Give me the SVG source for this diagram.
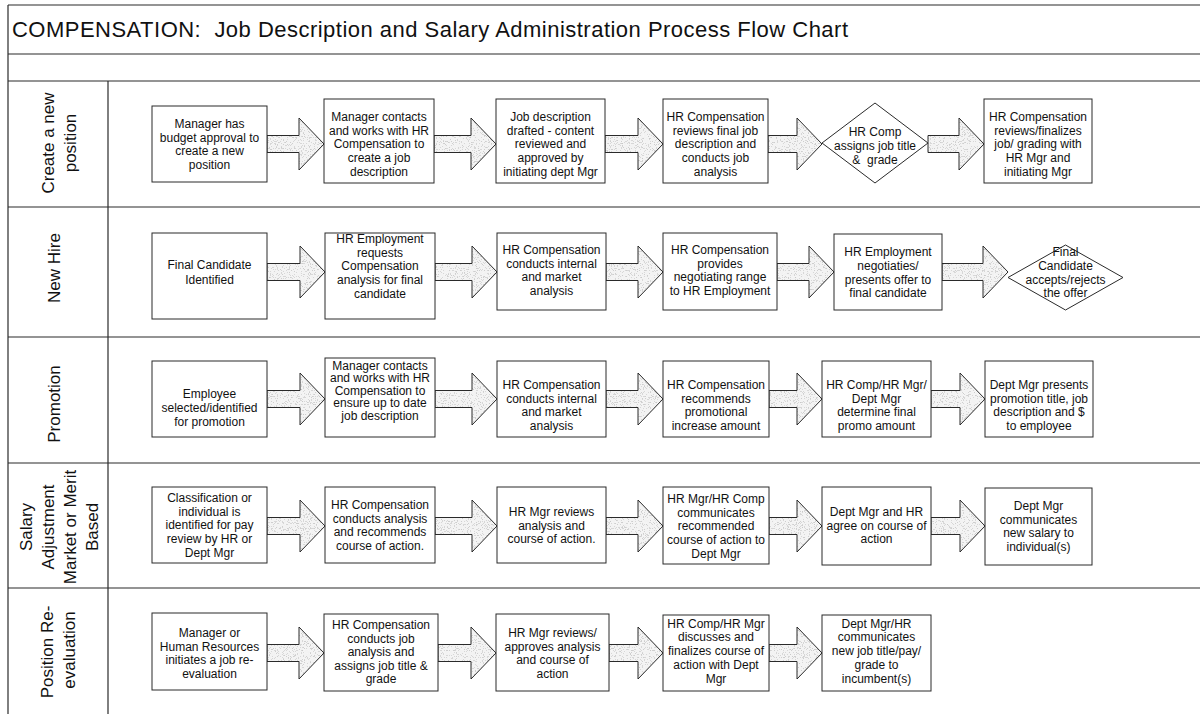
<svg xmlns="http://www.w3.org/2000/svg" xmlns:xlink="http://www.w3.org/1999/xlink" width="1200" height="714" viewBox="0 0 1200 714">
  <style>
    .frame { stroke: #2a2a2a; stroke-width: 1.2; fill: none; }
    .box { fill: #ffffff; stroke: #2a2a2a; stroke-width: 1; }
    .t { font-family: "Liberation Sans", Arial, sans-serif; font-size: 12px; fill: #111; text-anchor: middle; }
    .lane { font-family: "Liberation Sans", Arial, sans-serif; font-size: 17px; fill: #111; text-anchor: middle; }
    .title { font-family: "Liberation Sans", Arial, sans-serif; font-size: 22px; fill: #111; }
  </style>
  <defs>
    <!-- speckled light grey fill for the block arrows -->
    <filter id="grain" filterUnits="userSpaceOnUse" x="0" y="0" width="1200" height="714">
      <feTurbulence type="fractalNoise" baseFrequency="0.85" numOctaves="2" seed="7" result="noise"/>
      <feColorMatrix in="noise" type="matrix" values="1 0 0 0 0  1 0 0 0 0  1 0 0 0 0  0 0 0 0 1" result="grey"/>
      <feComponentTransfer in="grey" result="speck">
        <feFuncR type="discrete" tableValues="0.55 0.58 0.62 0.68 0.89 0.9 0.91 0.92 0.93 0.94"/>
        <feFuncG type="discrete" tableValues="0.55 0.58 0.62 0.68 0.89 0.9 0.91 0.92 0.93 0.94"/>
        <feFuncB type="discrete" tableValues="0.55 0.58 0.62 0.68 0.89 0.9 0.91 0.92 0.93 0.94"/>
      </feComponentTransfer>
      <feComposite in="speck" in2="SourceAlpha" operator="in"/>
    </filter>
  </defs>

  <rect width="1200" height="714" fill="#ffffff"/>

  <!-- table frame -->
  <g id="frame">
    <line class="frame" x1="8" y1="5" x2="1200" y2="5"/>
    <line class="frame" x1="8" y1="5" x2="8" y2="714"/>
    <line class="frame" x1="8" y1="54" x2="1200" y2="54"/>
    <line class="frame" x1="8" y1="81" x2="1200" y2="81"/>
    <line class="frame" x1="8" y1="207" x2="1200" y2="207"/>
    <line class="frame" x1="8" y1="337" x2="1200" y2="337"/>
    <line class="frame" x1="8" y1="463" x2="1200" y2="463"/>
    <line class="frame" x1="8" y1="588" x2="1200" y2="588"/>
    <line class="frame" x1="108" y1="81" x2="108" y2="714"/>
    <text class="title" x="12" y="37" textLength="836" lengthAdjust="spacing" xml:space="preserve">COMPENSATION:  Job Description and Salary Administration Process Flow Chart</text>
  </g>

  <!-- lane headings -->
  <g id="lane-labels">
    <text class="lane" transform="translate(54,143) rotate(-90)">Create a new</text>
    <text class="lane" transform="translate(76,143) rotate(-90)">position</text>
    <text class="lane" transform="translate(60,268) rotate(-90)">New Hire</text>
    <text class="lane" transform="translate(60,404) rotate(-90)">Promotion</text>
    <text class="lane" transform="translate(32,527) rotate(-90)">Salary</text>
    <text class="lane" transform="translate(54,527) rotate(-90)">Adjustment</text>
    <text class="lane" transform="translate(76,527) rotate(-90)">Market or Merit</text>
    <text class="lane" transform="translate(98,527) rotate(-90)">Based</text>
    <text class="lane" transform="translate(53,652) rotate(-90)">Position Re-</text>
    <text class="lane" transform="translate(75,650) rotate(-90)">evaluation</text>
  </g>

  <!-- connectors: block arrows (speckled fill, then outline) -->
  <g id="connectors">
    <g id="arrow-fills" fill="#888888" filter="url(#grain)">
      <!-- create a new position -->
      <path id="a11" d="M267 135.5H299V118L324 144L299 170V152.5H267Z"/>
      <path id="a12" d="M434 135.5H471V118L496 144L471 170V152.5H434Z"/>
      <path id="a13" d="M605 135.5H638V118L663 144L638 170V152.5H605Z"/>
      <path id="a14" d="M768 135.5H797V118L822 144L797 170V152.5H768Z"/>
      <path id="a15" d="M928 135.5H959V118L984 144L959 170V152.5H928Z"/>
      <!-- new hire -->
      <path id="a21" d="M267 263.5H300V246L325 272L300 298V280.5H267Z"/>
      <path id="a22" d="M435 263.5H472V246L497 272L472 298V280.5H435Z"/>
      <path id="a23" d="M606 263.5H638V246L663 272L638 298V280.5H606Z"/>
      <path id="a24" d="M777 263.5H809V246L834 272L809 298V280.5H777Z"/>
      <path id="a25" d="M942 263.5H983V246L1008 272L983 298V280.5H942Z"/>
      <!-- promotion -->
      <path id="a31" d="M267 390.5H300V373L325 399L300 425V407.5H267Z"/>
      <path id="a32" d="M435 390.5H472V373L497 399L472 425V407.5H435Z"/>
      <path id="a33" d="M606 390.5H638V373L663 399L638 425V407.5H606Z"/>
      <path id="a34" d="M769 390.5H797V373L822 399L797 425V407.5H769Z"/>
      <path id="a35" d="M931 390.5H960V373L985 399L960 425V407.5H931Z"/>
      <!-- salary adjustment -->
      <path id="a41" d="M267 517.5H300V500L325 526L300 552V534.5H267Z"/>
      <path id="a42" d="M435 517.5H472V500L497 526L472 552V534.5H435Z"/>
      <path id="a43" d="M606 517.5H638V500L663 526L638 552V534.5H606Z"/>
      <path id="a44" d="M769 517.5H797V500L822 526L797 552V534.5H769Z"/>
      <path id="a45" d="M931 517.5H960V500L985 526L960 552V534.5H931Z"/>
      <!-- position re-evaluation -->
      <path id="a51" d="M267 644.5H299V627L324 653L299 679V661.5H267Z"/>
      <path id="a52" d="M438 644.5H471V627L496 653L471 679V661.5H438Z"/>
      <path id="a53" d="M609 644.5H638V627L663 653L638 679V661.5H609Z"/>
      <path id="a54" d="M769 644.5H797V627L822 653L797 679V661.5H769Z"/>
    </g>
    <g id="arrow-outlines" fill="none" stroke="#2a2a2a" stroke-width="1">
      <use xlink:href="#a11"/><use xlink:href="#a12"/><use xlink:href="#a13"/><use xlink:href="#a14"/><use xlink:href="#a15"/>
      <use xlink:href="#a21"/><use xlink:href="#a22"/><use xlink:href="#a23"/><use xlink:href="#a24"/><use xlink:href="#a25"/>
      <use xlink:href="#a31"/><use xlink:href="#a32"/><use xlink:href="#a33"/><use xlink:href="#a34"/><use xlink:href="#a35"/>
      <use xlink:href="#a41"/><use xlink:href="#a42"/><use xlink:href="#a43"/><use xlink:href="#a44"/><use xlink:href="#a45"/>
      <use xlink:href="#a51"/><use xlink:href="#a52"/><use xlink:href="#a53"/><use xlink:href="#a54"/>
    </g>
  </g>

  <!-- lane 1: create a new position -->
  <g id="np-1">
    <rect class="box" x="152" y="106" width="115" height="76"/>
    <text class="t"><tspan x="209.5" y="128">Manager has</tspan><tspan x="209.5" y="141.5">budget approval to</tspan><tspan x="209.5" y="155">create a new</tspan><tspan x="209.5" y="168.5">position</tspan></text>
  </g>
  <g id="np-2">
    <rect class="box" x="324" y="99" width="110" height="84"/>
    <text class="t"><tspan x="379" y="121">Manager contacts</tspan><tspan x="379" y="134.7">and works with HR</tspan><tspan x="379" y="148.4">Compensation to</tspan><tspan x="379" y="162.1">create a job</tspan><tspan x="379" y="175.8">description</tspan></text>
  </g>
  <g id="np-3">
    <rect class="box" x="496" y="99" width="109" height="84"/>
    <text class="t"><tspan x="550.5" y="121">Job description</tspan><tspan x="550.5" y="134.7">drafted - content</tspan><tspan x="550.5" y="148.4">reviewed and</tspan><tspan x="550.5" y="162.1">approved by</tspan><tspan x="550.5" y="175.8">initiating dept Mgr</tspan></text>
  </g>
  <g id="np-4">
    <rect class="box" x="663" y="99" width="105" height="84"/>
    <text class="t"><tspan x="715.5" y="121">HR Compensation</tspan><tspan x="715.5" y="134.7">reviews final job</tspan><tspan x="715.5" y="148.4">description and</tspan><tspan x="715.5" y="162.1">conducts job</tspan><tspan x="715.5" y="175.8">analysis</tspan></text>
  </g>
  <g id="np-5">
    <polygon class="box" points="875,103 928,143 875,183 822,143"/>
    <text class="t" xml:space="preserve"><tspan x="875" y="136">HR Comp</tspan><tspan x="875" y="150">assigns job title</tspan><tspan x="875" y="163.5">&amp;  grade</tspan></text>
  </g>
  <g id="np-6">
    <rect class="box" x="984" y="99" width="108" height="84"/>
    <text class="t"><tspan x="1038" y="121">HR Compensation</tspan><tspan x="1038" y="134.7">reviews/finalizes</tspan><tspan x="1038" y="148.4">job/ grading with</tspan><tspan x="1038" y="162.1">HR Mgr and</tspan><tspan x="1038" y="175.8">initiating Mgr</tspan></text>
  </g>

  <!-- lane 2: new hire -->
  <g id="nh-1">
    <rect class="box" x="152" y="233" width="115" height="86"/>
    <text class="t"><tspan x="209.5" y="269">Final Candidate</tspan><tspan x="209.5" y="283.5">Identified</tspan></text>
  </g>
  <g id="nh-2">
    <rect class="box" x="325" y="233" width="110" height="86"/>
    <text class="t"><tspan x="380" y="243">HR Employment</tspan><tspan x="380" y="256.7">requests</tspan><tspan x="380" y="270.4">Compensation</tspan><tspan x="380" y="284.1">analysis for final</tspan><tspan x="380" y="297.8">candidate</tspan></text>
  </g>
  <g id="nh-3">
    <rect class="box" x="497" y="233" width="109" height="77"/>
    <text class="t"><tspan x="551.5" y="254">HR Compensation</tspan><tspan x="551.5" y="267.7">conducts internal</tspan><tspan x="551.5" y="281.4">and market</tspan><tspan x="551.5" y="295.1">analysis</tspan></text>
  </g>
  <g id="nh-4">
    <rect class="box" x="663" y="233" width="114" height="77"/>
    <text class="t"><tspan x="720" y="254">HR Compensation</tspan><tspan x="720" y="267.7">provides</tspan><tspan x="720" y="281.4">negotiating range</tspan><tspan x="720" y="295.1">to HR Employment</tspan></text>
  </g>
  <g id="nh-5">
    <rect class="box" x="834" y="234" width="108" height="76"/>
    <text class="t"><tspan x="888" y="256">HR Employment</tspan><tspan x="888" y="270">negotiaties/</tspan><tspan x="888" y="283.5">presents offer to</tspan><tspan x="888" y="297">final candidate</tspan></text>
  </g>
  <g id="nh-6">
    <polygon class="box" points="1065.5,245 1123,277.5 1065.5,310 1008,277.5"/>
    <text class="t"><tspan x="1065.5" y="256">Final</tspan><tspan x="1065.5" y="270">Candidate</tspan><tspan x="1065.5" y="283.5">accepts/rejects</tspan><tspan x="1065.5" y="297">the offer</tspan></text>
  </g>

  <!-- lane 3: promotion -->
  <g id="pr-1">
    <rect class="box" x="152" y="361" width="115" height="76"/>
    <text class="t"><tspan x="209.5" y="398">Employee</tspan><tspan x="209.5" y="412">selected/identified</tspan><tspan x="209.5" y="426">for promotion</tspan></text>
  </g>
  <g id="pr-2">
    <rect class="box" x="325" y="358" width="110" height="79"/>
    <text class="t"><tspan x="380" y="369.5">Manager contacts</tspan><tspan x="380" y="382">and works with HR</tspan><tspan x="380" y="394.5">Compensation to</tspan><tspan x="380" y="407">ensure up to date</tspan><tspan x="380" y="419.5">job description</tspan></text>
  </g>
  <g id="pr-3">
    <rect class="box" x="497" y="361" width="109" height="76"/>
    <text class="t"><tspan x="551.5" y="389">HR Compensation</tspan><tspan x="551.5" y="402.5">conducts internal</tspan><tspan x="551.5" y="416">and market</tspan><tspan x="551.5" y="429.5">analysis</tspan></text>
  </g>
  <g id="pr-4">
    <rect class="box" x="663" y="361" width="106" height="76"/>
    <text class="t"><tspan x="716" y="389">HR Compensation</tspan><tspan x="716" y="402.5">recommends</tspan><tspan x="716" y="416">promotional</tspan><tspan x="716" y="429.5">increase amount</tspan></text>
  </g>
  <g id="pr-5">
    <rect class="box" x="822" y="361" width="109" height="76"/>
    <text class="t"><tspan x="876.5" y="389">HR Comp/HR Mgr/</tspan><tspan x="876.5" y="402.5">Dept Mgr</tspan><tspan x="876.5" y="416">determine final</tspan><tspan x="876.5" y="429.5">promo amount</tspan></text>
  </g>
  <g id="pr-6">
    <rect class="box" x="985" y="361" width="108" height="76"/>
    <text class="t"><tspan x="1039" y="389">Dept Mgr presents</tspan><tspan x="1039" y="402.5">promotion title, job</tspan><tspan x="1039" y="416">description and $</tspan><tspan x="1039" y="429.5">to employee</tspan></text>
  </g>

  <!-- lane 4: salary adjustment -->
  <g id="sa-1">
    <rect class="box" x="152" y="487" width="115" height="76"/>
    <text class="t"><tspan x="209.5" y="502">Classification or</tspan><tspan x="209.5" y="515.7">individual is</tspan><tspan x="209.5" y="529.4">identified for pay</tspan><tspan x="209.5" y="543.1">review by HR or</tspan><tspan x="209.5" y="556.8">Dept Mgr</tspan></text>
  </g>
  <g id="sa-2">
    <rect class="box" x="325" y="487" width="110" height="76"/>
    <text class="t"><tspan x="380" y="509">HR Compensation</tspan><tspan x="380" y="522.7">conducts analysis</tspan><tspan x="380" y="536.4">and recommends</tspan><tspan x="380" y="550.1">course of action.</tspan></text>
  </g>
  <g id="sa-3">
    <rect class="box" x="497" y="487" width="109" height="76"/>
    <text class="t"><tspan x="551.5" y="516">HR Mgr reviews</tspan><tspan x="551.5" y="529.7">analysis and</tspan><tspan x="551.5" y="543.4">course of action.</tspan></text>
  </g>
  <g id="sa-4">
    <rect class="box" x="663" y="487" width="106" height="77"/>
    <text class="t"><tspan x="716" y="503">HR Mgr/HR Comp</tspan><tspan x="716" y="516.7">communicates</tspan><tspan x="716" y="530.4">recommended</tspan><tspan x="716" y="544.1">course of action to</tspan><tspan x="716" y="557.8">Dept Mgr</tspan></text>
  </g>
  <g id="sa-5">
    <rect class="box" x="822" y="487" width="109" height="78"/>
    <text class="t"><tspan x="876.5" y="516">Dept Mgr and HR</tspan><tspan x="876.5" y="529.7">agree on course of</tspan><tspan x="876.5" y="543.4">action</tspan></text>
  </g>
  <g id="sa-6">
    <rect class="box" x="985" y="488" width="107" height="77"/>
    <text class="t"><tspan x="1038.5" y="510">Dept Mgr</tspan><tspan x="1038.5" y="523.7">communicates</tspan><tspan x="1038.5" y="537.4">new salary to</tspan><tspan x="1038.5" y="551.1">individual(s)</tspan></text>
  </g>

  <!-- lane 5: position re-evaluation -->
  <g id="pe-1">
    <rect class="box" x="152" y="613" width="115" height="77"/>
    <text class="t"><tspan x="209.5" y="637">Manager or</tspan><tspan x="209.5" y="650.5">Human Resources</tspan><tspan x="209.5" y="664">initiates a job re-</tspan><tspan x="209.5" y="677.5">evaluation</tspan></text>
  </g>
  <g id="pe-2">
    <rect class="box" x="324" y="614" width="114" height="77"/>
    <text class="t"><tspan x="381" y="629">HR Compensation</tspan><tspan x="381" y="642.5">conducts job</tspan><tspan x="381" y="656">analysis and</tspan><tspan x="381" y="669.5">assigns job title &amp;</tspan><tspan x="381" y="683">grade</tspan></text>
  </g>
  <g id="pe-3">
    <rect class="box" x="496" y="614" width="113" height="77"/>
    <text class="t"><tspan x="552.5" y="637">HR Mgr reviews/</tspan><tspan x="552.5" y="650.5">approves analysis</tspan><tspan x="552.5" y="664">and course of</tspan><tspan x="552.5" y="677.5">action</tspan></text>
  </g>
  <g id="pe-4">
    <rect class="box" x="663" y="615" width="106" height="76"/>
    <text class="t"><tspan x="716" y="627.5">HR Comp/HR Mgr</tspan><tspan x="716" y="641.3">discusses and</tspan><tspan x="716" y="655.1">finalizes course of</tspan><tspan x="716" y="668.9">action with Dept</tspan><tspan x="716" y="682.7">Mgr</tspan></text>
  </g>
  <g id="pe-5">
    <rect class="box" x="822" y="615" width="109" height="76"/>
    <text class="t"><tspan x="876.5" y="627.5">Dept Mgr/HR</tspan><tspan x="876.5" y="641.3">communicates</tspan><tspan x="876.5" y="655.1">new job title/pay/</tspan><tspan x="876.5" y="668.9">grade to</tspan><tspan x="876.5" y="682.7">incumbent(s)</tspan></text>
  </g>
</svg>
